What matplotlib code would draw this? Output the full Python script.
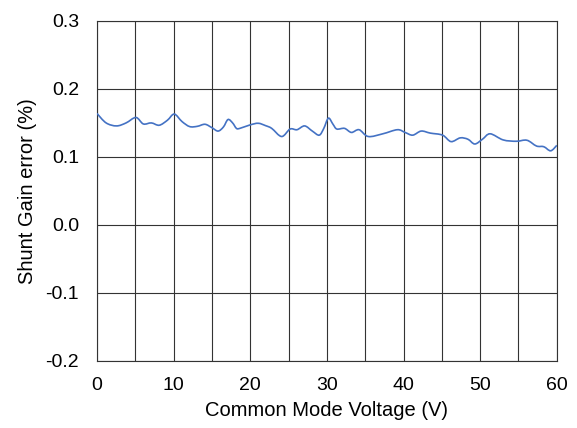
import matplotlib.pyplot as plt
from matplotlib.path import Path
from matplotlib.patches import PathPatch

plt.rcParams['font.family'] = ['Liberation Sans', 'DejaVu Sans']

# common mode voltage (V) and shunt gain error (%)
voltage = [0, 1.2, 2.56, 3.8, 5.09, 6.05, 7.1, 8.13, 9.2, 10.09, 11.1, 12.1, 13.1, 14.1,
           15.0, 15.8, 16.5, 17.1, 17.7, 18.2, 18.65, 19.96, 21.04, 22.0, 22.8, 24.1, 25.2,
           26.1, 27.1, 28.1, 29.0, 29.6, 30.2, 30.8, 31.3, 32.3, 33.2, 34.2, 35.4, 37.3,
           39.2, 40.2, 41.2, 42.3, 43.5, 45.1, 46.2, 47.4, 48.4, 49.3, 50.3, 51.3, 53.0,
           54.7, 56.1, 57.35, 58.3, 59.2, 60]
gain_err = [0.164, 0.150, 0.1456, 0.150, 0.158, 0.1485, 0.150, 0.1466, 0.154, 0.163,
            0.152, 0.1446, 0.145, 0.148, 0.143, 0.138, 0.144, 0.155, 0.150, 0.142,
            0.142, 0.147, 0.1495, 0.146, 0.142, 0.130, 0.141, 0.140, 0.1456, 0.138,
            0.132, 0.142, 0.157, 0.148, 0.141, 0.142, 0.136, 0.140, 0.130, 0.134,
            0.140, 0.136, 0.132, 0.138, 0.135, 0.132, 0.1225, 0.128, 0.126, 0.119,
            0.126, 0.134, 0.125, 0.123, 0.1245, 0.116, 0.115, 0.109, 0.117]

x_ticks = [0, 10, 20, 30, 40, 50, 60]
y_ticks = [-0.2, -0.1, 0.0, 0.1, 0.2, 0.3]

fig = plt.figure(figsize=(5.77, 4.28), dpi=100)
ax = fig.add_axes([0.168, 0.157, 0.797, 0.794])

# smoothed line like Excel: cubic Bezier segments through the points
pts = list(zip(voltage, gain_err))
verts = [pts[0]]
codes = [Path.MOVETO]
n = len(pts)
for i in range(n - 1):
    p0 = pts[max(i - 1, 0)]
    p1 = pts[i]
    p2 = pts[i + 1]
    p3 = pts[min(i + 2, n - 1)]
    c1 = (p1[0] + (p2[0] - p0[0]) / 6, p1[1] + (p2[1] - p0[1]) / 6)
    c2 = (p2[0] - (p3[0] - p1[0]) / 6, p2[1] - (p3[1] - p1[1]) / 6)
    verts += [c1, c2, p2]
    codes += [Path.CURVE4] * 3
ax.add_patch(PathPatch(Path(verts, codes), fill=False, edgecolor='#4472C4', lw=1.2, zorder=3))

ax.set_xlim(0, 60)
ax.set_ylim(-0.2, 0.3)
ax.set_xticks(x_ticks)
ax.set_xticks(range(0, 61, 5), minor=True)
ax.set_yticks(y_ticks)
ax.set_yticklabels(['%.1f' % v for v in y_ticks])
ax.grid(True, which='both', color='#333333', lw=0.8)
ax.tick_params(which='both', length=0, labelsize=14)
ax.tick_params(axis='x', pad=12)
ax.tick_params(axis='y', pad=13)
for s in ax.spines.values():
    s.set_color('#333333')
    s.set_linewidth(0.8)

ax.set_xlabel('Common Mode Voltage (V)', fontsize=14.5, labelpad=5)
ax.set_ylabel('Shunt Gain error (%)', fontsize=14.5, labelpad=6)

plt.savefig('out.png', dpi=100)
